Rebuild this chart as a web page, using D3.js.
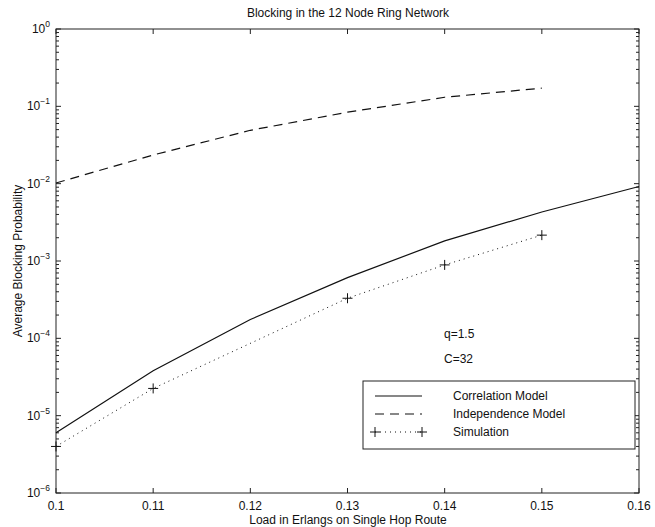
<!DOCTYPE html>
<html><head><meta charset="utf-8">
<script src="https://cdn.jsdelivr.net/npm/d3@7"></script>
<style>
body{margin:0;background:#fff;}
text{font-family:"Liberation Sans",Arial,Helvetica,sans-serif;fill:#111;}
</style></head>
<body><svg id="c" width="655" height="527"></svg>
<script>
const loads = [0.10, 0.11, 0.12, 0.13, 0.14, 0.15, 0.16];
const correlation = [6.0e-6, 3.8e-5, 1.75e-4, 6.1e-4, 1.82e-3, 4.3e-3, 9.2e-3];
const indepLoads = [0.10, 0.11, 0.12, 0.13, 0.14, 0.15];
const independence = [0.0102, 0.0235, 0.049, 0.084, 0.131, 0.172];
const simLoads = [0.10, 0.11, 0.13, 0.14, 0.15];
const simulation = [4.0e-6, 2.25e-5, 3.3e-4, 8.9e-4, 2.16e-3];
const xTicks = [0.10, 0.11, 0.12, 0.13, 0.14, 0.15, 0.16];
const xTickLabels = ["0.1", "0.11", "0.12", "0.13", "0.14", "0.15", "0.16"];
const yExps = [0, -1, -2, -3, -4, -5, -6];
const legendLabels = ["Correlation Model", "Independence Model", "Simulation"];
const notes = ["q=1.5", "C=32"];

const svg = d3.select("#c");
const L = 56, R = 639, T = 29, B = 493;
const x = d3.scaleLinear().domain([0.1, 0.16]).range([L, R]);
const y = d3.scaleLog().domain([1e-6, 1]).range([B, T]);
const axCol = "#222";

// frame
svg.append("rect").attr("x", L).attr("y", T).attr("width", R - L).attr("height", B - T)
  .attr("fill", "none").attr("stroke", axCol).attr("stroke-width", 1);

// x ticks (inward, bottom & top)
const gx = svg.append("g");
xTicks.forEach((t, i) => {
  const px = x(t);
  gx.append("line").attr("x1", px).attr("x2", px).attr("y1", B).attr("y2", B - 5).attr("stroke", axCol);
  gx.append("line").attr("x1", px).attr("x2", px).attr("y1", T).attr("y2", T + 5).attr("stroke", axCol);
  gx.append("text").attr("x", px).attr("y", 510).attr("text-anchor", "middle")
    .attr("font-size", 12).text(xTickLabels[i]);
});

// y ticks with minor log ticks
const gy = svg.append("g");
yExps.forEach(e => {
  const py = y(Math.pow(10, e));
  gy.append("line").attr("x1", L).attr("x2", L + 5).attr("y1", py).attr("y2", py).attr("stroke", axCol);
  gy.append("line").attr("x1", R).attr("x2", R - 5).attr("y1", py).attr("y2", py).attr("stroke", axCol);
  const tx = gy.append("text").attr("x", L - 6).attr("y", py + 4).attr("text-anchor", "end").attr("font-size", 12);
  tx.append("tspan").text("10");
  tx.append("tspan").attr("dy", -6).attr("font-size", 8.5).text(String(e).replace("-", "\u2212"));
  if (e > -6) {
    for (let m = 2; m <= 9; m++) {
      const v = m * Math.pow(10, e - 1);
      const pm = y(v);
      gy.append("line").attr("x1", L).attr("x2", L + 3).attr("y1", pm).attr("y2", pm).attr("stroke", axCol);
      gy.append("line").attr("x1", R).attr("x2", R - 3).attr("y1", pm).attr("y2", pm).attr("stroke", axCol);
    }
  }
});

// titles
svg.append("text").attr("x", 348).attr("y", 17).attr("text-anchor", "middle").attr("font-size", 12)
  .text("Blocking in the 12 Node Ring Network");
svg.append("text").attr("x", 348).attr("y", 524).attr("text-anchor", "middle").attr("font-size", 12)
  .text("Load in Erlangs on Single Hop Route");
svg.append("text").attr("transform", "translate(22,261) rotate(-90)").attr("text-anchor", "middle")
  .attr("font-size", 12).text("Average Blocking Probability");

// lines
const line = d3.line().x(d => x(d[0])).y(d => y(d[1]));
svg.append("path").datum(loads.map((l, i) => [l, correlation[i]]))
  .attr("d", line).attr("fill", "none").attr("stroke", "#111").attr("stroke-width", 1.2);
svg.append("path").datum(indepLoads.map((l, i) => [l, independence[i]]))
  .attr("d", line).attr("fill", "none").attr("stroke", "#111").attr("stroke-width", 1.2)
  .attr("stroke-dasharray", "9,6");
svg.append("path").datum(simLoads.map((l, i) => [l, simulation[i]]))
  .attr("d", line).attr("fill", "none").attr("stroke", "#111").attr("stroke-width", 1)
  .attr("stroke-dasharray", "1,4");
const simPts = svg.append("g");
simLoads.forEach((l, i) => {
  const px = x(l), py = y(simulation[i]);
  simPts.append("line").attr("x1", px - 5).attr("x2", px + 5).attr("y1", py).attr("y2", py).attr("stroke", "#111");
  simPts.append("line").attr("x1", px).attr("x2", px).attr("y1", py - 5).attr("y2", py + 5).attr("stroke", "#111");
});

// notes
notes.forEach((n, i) => {
  svg.append("text").attr("x", 444).attr("y", 338 + i * 25).attr("font-size", 12).text(n);
});

// legend
const lg = svg.append("g");
lg.append("rect").attr("x", 363).attr("y", 381).attr("width", 272).attr("height", 68)
  .attr("fill", "#fff").attr("stroke", axCol);
const rows = [396, 414, 432];
const styles = [null, "9,6", "1,4"];
rows.forEach((ry, i) => {
  const ln = lg.append("line").attr("x1", 375).attr("x2", 422).attr("y1", ry).attr("y2", ry)
    .attr("stroke", "#111").attr("stroke-width", i === 2 ? 1 : 1.2);
  if (styles[i]) ln.attr("stroke-dasharray", styles[i]);
  if (i === 2) {
    [375, 422].forEach(px => {
      lg.append("line").attr("x1", px - 5).attr("x2", px + 5).attr("y1", ry).attr("y2", ry).attr("stroke", "#111");
      lg.append("line").attr("x1", px).attr("x2", px).attr("y1", ry - 5).attr("y2", ry + 5).attr("stroke", "#111");
    });
  }
  lg.append("text").attr("x", 453).attr("y", ry + 4).attr("font-size", 12).text(legendLabels[i]);
});
</script></body></html>
